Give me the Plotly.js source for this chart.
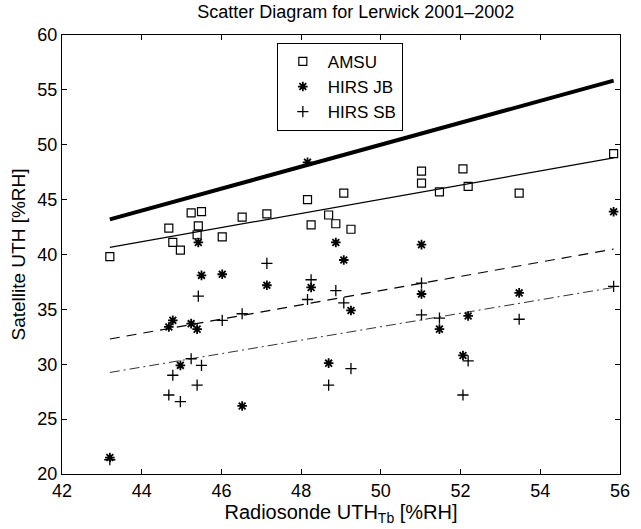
<!DOCTYPE html>
<html>
<head>
<meta charset="utf-8">
<script src="https://cdn.plot.ly/plotly-3.0.1.min.js"></script>
<style>html,body{margin:0;padding:0;background:#fff;}#chart{width:641px;height:529px;}</style>
</head>
<body>
<div id="chart"></div>
<script>
// Radiosonde UTH_Tb values (x) shared by all series
const radiosonde = [43.2, 44.68, 44.78, 44.97, 45.24, 45.39, 45.42, 45.50, 46.02, 46.52, 47.14, 48.16, 48.25, 48.69, 48.87, 49.07, 49.25, 51.02, 51.02, 51.47, 52.06, 52.19, 53.47, 55.84];
const amsu   = [39.8, 42.4, 41.1, 40.4, 43.8, 41.8, 42.6, 43.9, 41.6, 43.4, 43.7, 45.0, 42.7, 43.6, 42.8, 45.6, 42.3, 47.6, 46.5, 45.7, 47.8, 46.2, 45.6, 49.2];
const hirsJB = [21.5, 33.4, 34.0, 29.9, 33.7, 33.2, 41.1, 38.1, 38.2, 26.2, 37.2, 48.4, 37.0, 30.1, 41.1, 39.5, 34.9, 40.9, 36.4, 33.2, 30.8, 34.4, 36.5, 43.9];
const hirsSB = [21.3, 27.2, 29.0, 26.6, 30.5, 28.1, 36.2, 29.9, 34.0, 34.6, 39.2, 35.9, 37.7, 28.1, 36.7, 35.6, 29.6, 37.4, 34.5, 34.2, 27.2, 30.3, 34.1, 37.1];
// regression / reference lines (end points)
const fitX   = [43.2, 55.84];
const oneToOne = [43.2, 55.84];
const amsuFit  = [40.65, 48.8];
const jbFit    = [32.3, 40.5];
const sbFit    = [29.25, 37.0];
const names = ['AMSU', 'HIRS JB', 'HIRS SB'];

const traces = [
  {x: fitX, y: oneToOne, mode: 'lines', line: {color: '#000', width: 4}, showlegend: false, hoverinfo: 'skip'},
  {x: fitX, y: amsuFit, mode: 'lines', line: {color: '#000', width: 1.2}, showlegend: false, hoverinfo: 'skip'},
  {x: fitX, y: jbFit, mode: 'lines', line: {color: '#000', width: 1.2, dash: '10px,7px'}, showlegend: false, hoverinfo: 'skip'},
  {x: fitX, y: sbFit, mode: 'lines', line: {color: '#333', width: 1, dash: '10px,4px,2px,4px'}, showlegend: false, hoverinfo: 'skip'},
  {x: radiosonde, y: amsu, name: names[0], mode: 'markers', marker: {symbol: 'square-open', size: 8, color: '#000', line: {width: 1.2, color: '#000'}}},
  {x: radiosonde, y: hirsJB, name: names[1], mode: 'markers', marker: {symbol: 'asterisk-open', size: 8, color: '#000', line: {width: 1.8, color: '#000'}}},
  {x: radiosonde, y: hirsSB, name: names[2], mode: 'markers', marker: {symbol: 'cross-thin-open', size: 8, color: '#000', line: {width: 1.3, color: '#000'}}}
];

const FONT = 'Liberation Sans, Arial, sans-serif';
const axisCommon = {
  showline: true, linecolor: '#000', linewidth: 1, mirror: 'ticks',
  ticks: 'inside', ticklen: 5, tickcolor: '#000', tickwidth: 1,
  showgrid: false, zeroline: false,
  tickfont: {family: FONT, size: 18, color: '#000'}
};

const layout = {
  width: 641, height: 529,
  margin: {l: 62, r: 21, t: 35, b: 55},
  paper_bgcolor: '#fff', plot_bgcolor: '#fff',
  font: {family: FONT, color: '#000'},
  title: {text: 'Scatter Diagram for Lerwick 2001\u20132002', x: 0.555, xanchor: 'center', y: 0.99, yanchor: 'top',
          font: {size: 18, color: '#000'}},
  xaxis: Object.assign({}, axisCommon, {range: [42, 56], tickvals: [42,44,46,48,50,52,54,56],
          title: {text: 'Radiosonde UTH<sub>Tb</sub> [%RH]', standoff: 0, font: {size: 20, color: '#000'}}}),
  yaxis: Object.assign({}, axisCommon, {range: [20, 60], tickvals: [20,25,30,35,40,45,50,55,60],
          title: {text: 'Satellite UTH [%RH]', standoff: 6, font: {size: 19, color: '#000'}}}),
  legend: {x: 0.385, y: 0.982, xanchor: 'left', yanchor: 'top', bgcolor: '#fff', bordercolor: '#000', borderwidth: 1,
           font: {size: 17, color: '#000'}, itemwidth: 40, tracegroupgap: 0}
};

Plotly.newPlot('chart', traces, layout, {displayModeBar: false, staticPlot: true});
</script>
</body>
</html>
